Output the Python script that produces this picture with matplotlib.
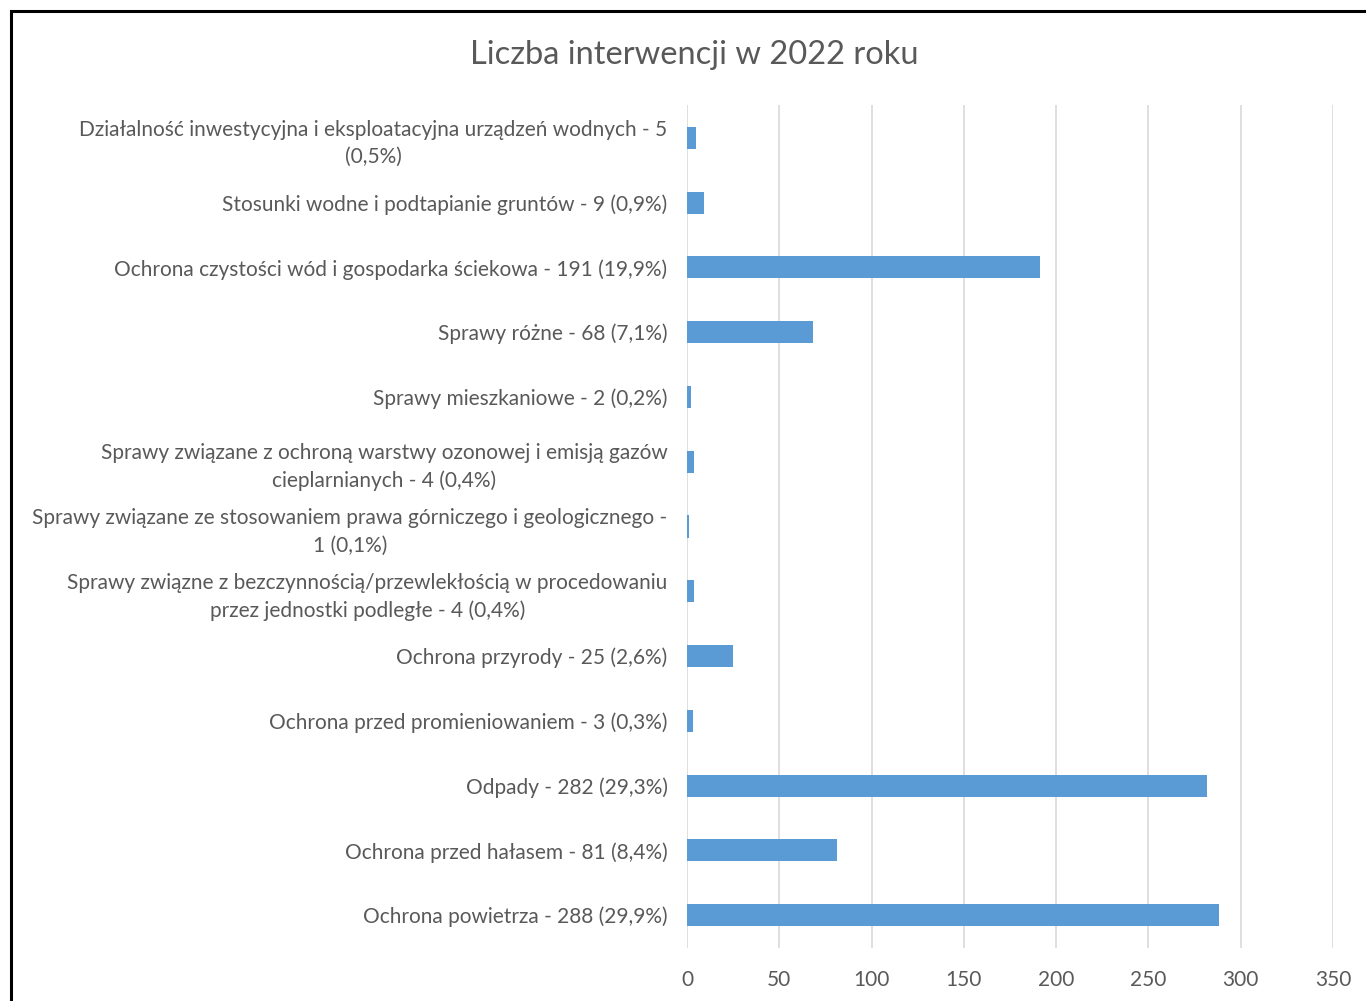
import matplotlib.pyplot as plt
from matplotlib.patches import Rectangle

plt.rcParams['font.family'] = ['Lato', 'DejaVu Sans']

categories = [
    "Działalność inwestycyjna i eksploatacyjna urządzeń wodnych - 5\n(0,5%)",
    "Stosunki wodne i podtapianie gruntów - 9 (0,9%)",
    "Ochrona czystości wód i gospodarka ściekowa - 191 (19,9%)",
    "Sprawy różne - 68 (7,1%)",
    "Sprawy mieszkaniowe - 2 (0,2%)",
    "Sprawy związane z ochroną warstwy ozonowej i emisją gazów\ncieplarnianych - 4 (0,4%)",
    "Sprawy związane ze stosowaniem prawa górniczego i geologicznego -\n1 (0,1%)",
    "Sprawy związne z bezczynnością/przewlekłością w procedowaniu\nprzez jednostki podległe - 4 (0,4%)",
    "Ochrona przyrody - 25 (2,6%)",
    "Ochrona przed promieniowaniem - 3 (0,3%)",
    "Odpady - 282 (29,3%)",
    "Ochrona przed hałasem - 81 (8,4%)",
    "Ochrona powietrza - 288 (29,9%)",
]
values = [5, 9, 191, 68, 2, 4, 1, 4, 25, 3, 282, 81, 288]
ticks = [0, 50, 100, 150, 200, 250, 300, 350]

grey = '#595959'
fig = plt.figure(figsize=(13.66, 10.01), dpi=100)
ax = fig.add_axes([687 / 1366, 1 - 947.5 / 1001, 646 / 1366, 842 / 1001])

pos = list(range(len(values)))
ax.barh(pos, values, height=0.34, color='#5B9BD5', zorder=3)
ax.set_ylim(len(values) - 0.5, -0.5)
ax.set_xlim(0, 350)
ax.set_xticks(ticks)
ax.set_yticks(pos)
ax.set_yticklabels(categories, multialignment='center', linespacing=1.45)
ax.tick_params(axis='y', length=0, pad=14, labelsize=15, labelcolor=grey)
ax.tick_params(axis='x', length=0, pad=16, labelsize=15, labelcolor=grey)
ax.grid(axis='x', color='#D9D9D9', linewidth=1.2, zorder=0)
for s in ax.spines.values():
    s.set_visible(False)

fig.text(694 / 1366, 1 - 55 / 1001, "Liczba interwencji w 2022 roku",
         ha='center', va='center', fontsize=23.5, color=grey)

fig.patches.append(Rectangle((10.5 / 1366, -0.1), 1.2, 1 - 11 / 1001 + 0.1,
                             transform=fig.transFigure, fill=False,
                             edgecolor='black', linewidth=2.2))

fig.savefig('out.png', dpi=100)
